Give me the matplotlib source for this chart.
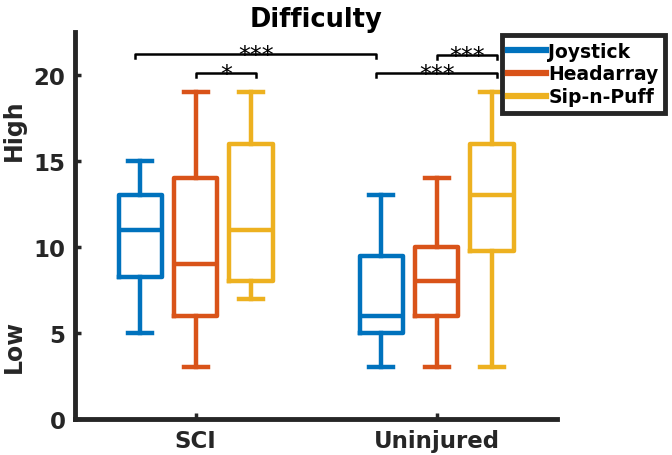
import numpy as np
import matplotlib
matplotlib.use('Agg')
import matplotlib.pyplot as plt
from matplotlib.lines import Line2D

# ---- data ----
groups = ['SCI', 'Uninjured']
devices = ['Joystick', 'Headarray', 'Sip-n-Puff']
colors = ['#0072BD', '#D95319', '#EDB120']

# per device: [SCI, Uninjured]
whislo = [[5, 3], [3, 3], [7, 3]]
q1 = [[8.25, 5], [6, 6], [8, 9.75]]
med = [[11, 6], [9, 8], [11, 13]]
q3 = [[13, 9.5], [14, 10], [16, 16]]
whishi = [[15, 13], [19, 14], [19, 19]]

# significance brackets: (x1, x2, y, label)
sig = [(1 - 0.25, 2 - 0.25, 21.2, '***'),
       (1.0, 1.25, 20.1, '*'),
       (2 - 0.25, 2.25, 20.1, '***'),
       (2.0, 2.25, 21.15, '***')]

offsets = [-0.23, 0.0, 0.23]
dark = '#262626'

fig = plt.figure(figsize=(6.72, 4.56), dpi=100)
ax = fig.add_axes([0.112, 0.079, 0.717, 0.849])

for d in range(3):
    stats = []
    for g in range(2):
        stats.append({'whislo': whislo[d][g], 'q1': q1[d][g], 'med': med[d][g],
                      'q3': q3[d][g], 'whishi': whishi[d][g], 'fliers': []})
    pos = [g + 1 + offsets[d] for g in range(2)]
    lp = dict(color=colors[d], linewidth=3.2)
    ax.bxp(stats, positions=pos, widths=0.18, showfliers=False,
           boxprops=lp, whiskerprops=lp, capprops=lp, medianprops=lp,
           capwidths=0.1, manage_ticks=False)

tick = 0.2
for x1, x2, y, lab in sig:
    ax.plot([x1, x1, x2, x2], [y - tick, y, y, y - tick], color='black', lw=1.8)
    ax.text((x1 + x2) / 2, y - 0.75, lab, ha='center', va='bottom', fontsize=17)

ax.set_xlim(0.5, 2.5)
ax.set_ylim(0, 22.5)
ax.set_xticks([1, 2])
ax.set_xticklabels(groups)
ax.set_yticks([0, 5, 10, 15, 20])
for lbl in ax.get_xticklabels() + ax.get_yticklabels():
    lbl.set_fontweight('bold')
    lbl.set_fontsize(16.5)
    lbl.set_color(dark)
ax.tick_params(direction='in', length=4, width=2.5, color=dark, pad=7)
ax.spines['top'].set_visible(False)
ax.spines['right'].set_visible(False)
for s in ['left', 'bottom']:
    ax.spines[s].set_linewidth(3.5)
    ax.spines[s].set_color(dark)

ax.set_title('Difficulty', fontsize=18.5, fontweight='bold', pad=4)
fig.text(0.02, 0.715, 'High', rotation=90, ha='center', va='center',
         fontsize=17, fontweight='bold', color=dark)
fig.text(0.02, 0.24, 'Low', rotation=90, ha='center', va='center',
         fontsize=17, fontweight='bold', color=dark)

handles = [Line2D([], [], color=c, lw=4.5) for c in colors]
leg = ax.legend(handles, devices, loc='upper right', bbox_to_anchor=(0.99, 0.921),
                bbox_transform=fig.transFigure, fancybox=False, framealpha=1,
                edgecolor=dark, prop={'weight': 'bold', 'size': 13.5},
                handlelength=2.0, handletextpad=0.15, borderpad=0.35,
                labelspacing=0.2, borderaxespad=0)
leg.get_frame().set_linewidth(3.5)

fig.savefig('out.png', dpi=100)
